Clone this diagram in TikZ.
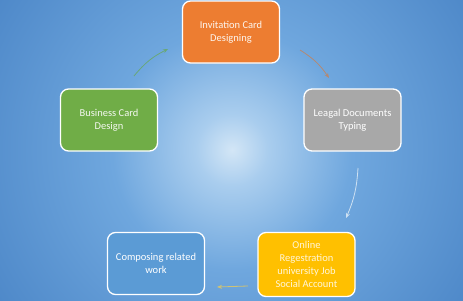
\documentclass[tikz,border=0pt]{standalone}
\usepackage{fontspec}
\setmainfont{Carlito}
\usetikzlibrary{arrows.meta}
\definecolor{glowc}{HTML}{D3E6F6}
\definecolor{glowb}{HTML}{A9CDEE}
\definecolor{glowm}{HTML}{6FA7DE}
\definecolor{glowo}{HTML}{4580C3}
\definecolor{glowe}{HTML}{285EA2}
\pgfdeclareradialshading{bgglow}{\pgfpoint{0bp}{0bp}}{%
  color(0bp)=(glowc);
  color(3bp)=(glowb);
  color(10bp)=(glowm);
  color(27bp)=(glowo);
  color(50bp)=(glowe)}
\definecolor{orangebox}{HTML}{ED7D31}
\definecolor{greenbox}{HTML}{70AD47}
\definecolor{graybox}{HTML}{A8A8A8}
\definecolor{bluebox}{HTML}{5B9BD5}
\definecolor{goldbox}{HTML}{FFC000}
\tikzset{
  card/.style={draw=white, line width=1.3pt, rounded corners=8pt,
    minimum width=97pt, minimum height=62pt, align=center,
    font=\fontsize{10.5}{13}\selectfont, inner sep=2pt},
  flow/.style={line width=0.8pt, -{Stealth[length=5pt,width=4pt]}},
}
\begin{document}
\begin{tikzpicture}[x=1pt,y=-1pt]
\useasboundingbox (0,0) rectangle (463,300);
\begin{scope}
\clip (0,0) rectangle (463,300);
\fill[glowe] (0,0) rectangle (463,300);
\shade[shading=bgglow] (232,150) circle (300);
\end{scope}
\node[card, fill=orangebox, text=white!92!orangebox] (inv) at (231,32) {Invitation Card\\Designing};
\node[card, fill=greenbox, text=white!92!greenbox] (bus) at (109,120) {Business Card\\Design};
\node[card, fill=graybox, text=white] (leg) at (352.5,120) {Leagal Documents\\Typing};
\node[card, fill=bluebox, text=white] (com) at (156,263.5) {Composing related\\work};
\node[card, fill=goldbox, text=white!85!goldbox, minimum height=64pt] (onl) at (306.5,264.5) {Online\\Regestration\\university Job\\Social Account};
\coordinate (a1s) at (134,76);
\coordinate (a1e) at (168,49);
\coordinate (a2s) at (300,50);
\coordinate (a2e) at (329,78);
\coordinate (a3s) at (358,168);
\coordinate (a3e) at (346,218);
\coordinate (a4s) at (248,286);
\coordinate (a4e) at (217,287);
\draw[flow, draw=greenbox!65!bluebox] (a1s) to[bend left=12] (a1e);
\draw[flow, draw=orangebox!60!bluebox] (a2s) to[bend left=12] (a2e);
\draw[flow, draw=white!70!bluebox] (a3s) to[bend left=10] (a3e);
\draw[flow, draw=goldbox!70!white!70!bluebox] (a4s) -- (a4e);
\end{tikzpicture}
\end{document}
